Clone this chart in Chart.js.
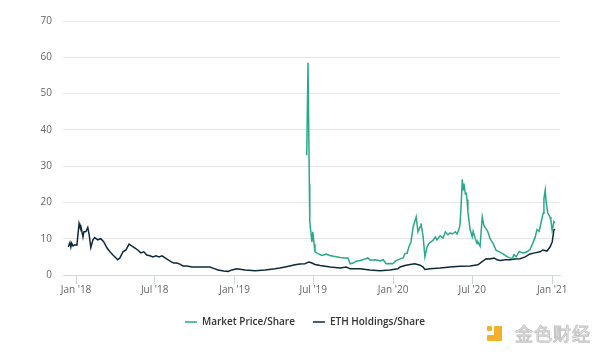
<!DOCTYPE html>
<html>
<head>
<meta charset="utf-8">
<script src="https://cdn.jsdelivr.net/npm/chart.js@4.4.0/dist/chart.umd.min.js"></script>
<style>
  html, body { margin: 0; padding: 0; background: #fff; }
  #wrap { position: relative; width: 600px; height: 357px; }
  #c { position: absolute; left: 0; top: 0; }
  #wm { position: absolute; left: 487px; top: 322px; height: 22px; display: flex; align-items: center; pointer-events: none; }
  #wm .icon { width: 15px; height: 15px; position: relative; margin-right: 13px; }
  #wm .icon .a { position: absolute; left: 0; top: 0; width: 5px; height: 5px; background: #f3b02a; border-radius: 1px; }
  #wm .icon .b { position: absolute; left: 7px; top: 0; width: 8px; height: 15px; background: #f3b02a; border-radius: 1px; }
  #wm .icon .c { position: absolute; left: 0; top: 9px; width: 15px; height: 6px; background: #f3b02a; border-radius: 1px; }
  #wm .txt { font-family: "Noto Sans CJK SC", sans-serif; font-size: 18px; color: #fff; -webkit-text-stroke: 1px #c4c4c4; letter-spacing: 1px; }
</style>
</head>
<body>
<div id="wrap">
<canvas id="c" width="600" height="357"></canvas>
<div id="wm"><div class="icon"><div class="a"></div><div class="b"></div><div class="c"></div></div><span class="txt">金色财经</span></div>
</div>
<script>
// ---- Data ----
const seriesNames = ["Market Price/Share", "ETH Holdings/Share"];

const ethDates = [
"2017-12-14","2017-12-18","2017-12-20","2017-12-22","2017-12-25","2017-12-29","2018-01-03","2018-01-08","2018-01-10","2018-01-12",
"2018-01-17","2018-01-19","2018-01-24","2018-01-28","2018-01-31","2018-02-04","2018-02-09","2018-02-13","2018-02-20","2018-02-27",
"2018-03-06","2018-03-13","2018-03-20","2018-03-27","2018-04-03","2018-04-07","2018-04-12","2018-04-19","2018-04-26","2018-05-03",
"2018-05-09","2018-05-16","2018-05-23","2018-05-30","2018-06-06","2018-06-13","2018-06-20","2018-06-27","2018-07-04","2018-07-11",
"2018-07-18","2018-07-25","2018-08-01","2018-08-08","2018-08-14","2018-08-21","2018-08-28","2018-09-04","2018-09-13","2018-09-25",
"2018-10-06","2018-10-25","2018-11-05","2018-11-12","2018-11-24","2018-12-07","2018-12-17","2018-12-26","2019-01-06","2019-01-25",
"2019-02-17","2019-03-12","2019-04-04","2019-04-15","2019-04-27","2019-05-08","2019-05-20","2019-05-31","2019-06-12","2019-06-21",
"2019-06-28","2019-07-05","2019-07-17","2019-08-09","2019-09-01","2019-09-15","2019-09-24","2019-10-17","2019-11-08","2019-12-02",
"2019-12-24","2020-01-12","2020-01-17","2020-01-28","2020-02-09","2020-02-20","2020-03-03","2020-03-10","2020-03-14","2020-03-26",
"2020-04-18","2020-05-11","2020-06-03","2020-06-26","2020-07-14","2020-07-23","2020-08-02","2020-08-11","2020-08-20","2020-08-27",
"2020-09-03","2020-09-15","2020-09-26","2020-10-07","2020-10-19","2020-10-31","2020-11-11","2020-11-22","2020-12-04","2020-12-11",
"2020-12-20","2020-12-27","2021-01-01","2021-01-05","2021-01-07"
];
const ethValues = [
7.7,8.9,7.7,8.8,8.0,8.3,8.2,14.2,13.3,13.5,
10.5,11.9,12.0,13.1,11.3,7.6,9.7,10.3,9.7,10.0,
9.1,7.5,6.4,5.5,4.7,4.2,4.7,6.4,6.9,8.5,
8.0,7.5,6.9,6.1,6.4,5.5,5.3,5.0,5.3,5.0,
5.3,4.7,4.2,3.6,3.3,3.3,3.0,2.5,2.5,2.2,
2.2,2.2,2.2,1.9,1.4,1.1,1.0,1.4,1.7,1.4,
1.2,1.4,1.7,1.9,2.2,2.5,2.8,3.0,3.1,3.6,
3.3,2.9,2.6,2.2,1.9,2.2,1.7,1.7,1.4,1.2,
1.4,1.7,2.2,2.6,2.9,3.1,2.7,2.2,1.5,1.7,
1.9,2.2,2.4,2.5,2.8,3.6,4.5,4.4,4.7,4.2,
4.0,4.2,4.2,4.4,4.5,5.0,5.8,6.1,6.4,6.9,
6.6,7.7,9.1,12.4,12.7
];

const mktDates = [
"2019-06-16","2019-06-19","2019-06-22","2019-06-23","2019-06-28","2019-06-30","2019-07-03","2019-07-05","2019-07-12","2019-07-21",
"2019-07-31","2019-08-08","2019-08-20","2019-09-01","2019-09-12","2019-09-19","2019-09-24","2019-10-01","2019-10-08","2019-10-17",
"2019-10-28","2019-11-04","2019-11-09","2019-11-20","2019-12-02","2019-12-09","2019-12-16","2019-12-25","2019-12-31","2020-01-07",
"2020-01-14","2020-01-24","2020-01-28","2020-02-02","2020-02-06","2020-02-11","2020-02-16","2020-02-23","2020-02-27","2020-03-03",
"2020-03-05","2020-03-10","2020-03-14","2020-03-19","2020-03-23","2020-03-28","2020-04-02","2020-04-07","2020-04-11","2020-04-18",
"2020-04-25","2020-04-30","2020-05-06","2020-05-11","2020-05-16","2020-05-23","2020-05-27","2020-06-01","2020-06-03","2020-06-06",
"2020-06-08","2020-06-10","2020-06-12","2020-06-15","2020-06-17","2020-06-19","2020-06-21","2020-06-26","2020-07-01","2020-07-03",
"2020-07-08","2020-07-12","2020-07-14","2020-07-19","2020-07-24","2020-07-28","2020-08-02","2020-08-06","2020-08-11","2020-08-18",
"2020-08-25","2020-09-03","2020-09-10","2020-09-17","2020-09-24","2020-10-01","2020-10-05","2020-10-10","2020-10-17","2020-10-26",
"2020-11-04","2020-11-11","2020-11-18","2020-11-23","2020-11-27","2020-12-02","2020-12-06","2020-12-11","2020-12-13","2020-12-16",
"2020-12-18","2020-12-22","2020-12-27","2020-12-29","2021-01-01","2021-01-05","2021-01-07"
];
const mktValues = [
33.0,58.5,25.0,14.7,9.1,11.9,8.5,6.4,5.9,5.4,
5.8,5.4,5.1,4.8,4.7,4.7,3.1,3.3,3.8,4.0,
4.4,4.7,4.1,4.2,3.9,4.2,3.1,3.2,3.1,3.9,
4.3,4.7,5.9,6.0,7.7,9.1,13.3,16.0,11.9,13.3,
14.2,10.5,5.0,7.7,8.7,9.1,9.6,10.5,9.7,10.8,
10.2,11.9,11.1,11.6,11.3,11.9,11.3,12.8,14.1,20.7,
26.4,23.5,25.2,22.4,22.5,20.8,17.4,12.6,10.5,12.0,
10.0,8.7,9.1,7.9,16.0,13.5,12.7,11.9,10.0,8.7,
6.8,6.3,5.8,5.2,4.8,4.5,5.6,5.0,6.5,6.0,
6.4,7.0,9.0,10.5,12.5,12.0,14.2,17.0,21.0,23.4,
20.2,17.0,16.0,15.1,12.2,14.7,14.3
];

const tickDates = ["2018-01-01","2018-07-01","2019-01-01","2019-07-01","2020-01-01","2020-07-01","2021-01-01"];
const tickLabels = ["Jan '18","Jul '18","Jan '19","Jul '19","Jan '20","Jul '20","Jan '21"];
const yTicks = [0,10,20,30,40,50,60,70];

// ---- Build ----
const toPts = (ds, vs) => ds.map((d, i) => ({ x: Date.parse(d), y: vs[i] }));
const tickVals = tickDates.map(d => Date.parse(d));

const legendShift = {
  id: 'legendShift',
  afterLayout(chart) {
    const lg = chart.legend;
    if (lg) { lg.left += 25; lg.right += 25; }
  }
};

new Chart(document.getElementById('c'), {
  type: 'line',
  data: {
    datasets: [
      { label: seriesNames[0], data: toPts(mktDates, mktValues), borderColor: '#29a98b', backgroundColor: '#29a98b',
        borderWidth: 1.5, pointRadius: 0, tension: 0 },
      { label: seriesNames[1], data: toPts(ethDates, ethValues), borderColor: '#0d2a3a', backgroundColor: '#0d2a3a',
        borderWidth: 1.5, pointRadius: 0, tension: 0 }
    ]
  },
  plugins: [legendShift],
  options: {
    responsive: false,
    animation: false,
    devicePixelRatio: 1,
    layout: { padding: { top: 21, right: 40, bottom: 20, left: 0 } },
    plugins: {
      tooltip: { enabled: false },
      legend: {
        position: 'bottom',
        labels: {
          usePointStyle: true, pointStyle: 'line', pointStyleWidth: 12,
          padding: 18, color: '#333',
          font: { family: "'Open Sans', sans-serif", size: 10, weight: '600' }
        }
      }
    },
    scales: {
      x: {
        type: 'linear',
        min: Date.parse('2017-12-02'),
        max: Date.parse('2021-01-19'),
        afterBuildTicks: (s) => { s.ticks = tickVals.map(v => ({ value: v })); },
        afterFit: (s) => { s.height = 24; },
        ticks: {
          autoSkip: false, maxRotation: 0, padding: 0, color: '#666',
          font: { family: "'Open Sans', sans-serif", size: 10 },
          callback: (v) => { const i = tickVals.indexOf(v); return i >= 0 ? tickLabels[i] : ''; }
        },
        grid: { drawOnChartArea: false, drawTicks: true, tickLength: 9, color: '#ccd6eb' },
        border: { display: true, color: '#ccd6eb' }
      },
      y: {
        min: 0, max: 70,
        afterBuildTicks: (s) => { s.ticks = yTicks.map(v => ({ value: v })); },
        afterFit: (s) => { s.width = 63; },
        ticks: { padding: 11, color: '#666', font: { family: "'Open Sans', sans-serif", size: 10 } },
        grid: { color: '#e6e6e6', drawTicks: false },
        border: { display: false }
      }
    }
  }
});
</script>
</body>
</html>
